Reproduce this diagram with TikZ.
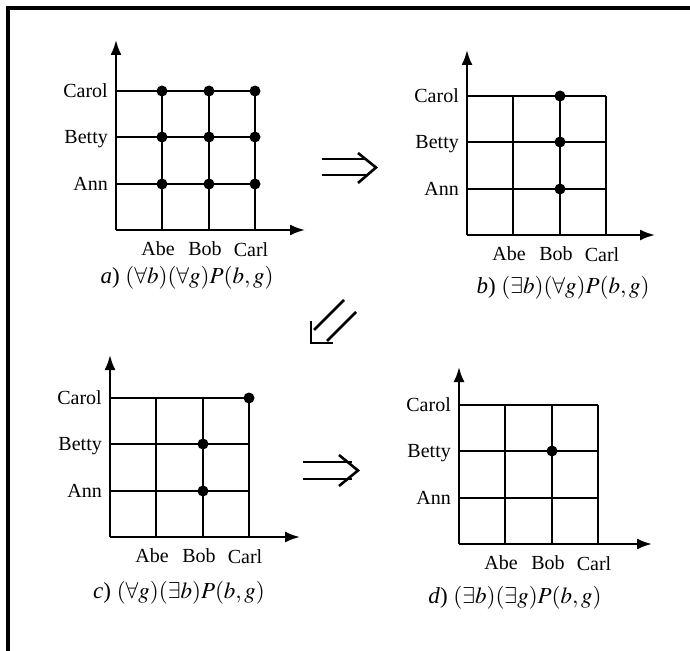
\documentclass[tikz,border=0pt]{standalone}
\usepackage{mathptmx}
\usepackage{fontspec}
\setmainfont{Liberation Serif}
\usetikzlibrary{arrows.meta}
% #1 prefix, #2 x0, #3 y0, #4 y of y-axis tip, #5 x of x-axis tip
\newcommand\drawpanel[5]{%
  \coordinate (#1o) at (#2,#3);
  \coordinate (#1top) at (#2,#4);
  \coordinate (#1tip) at (#5,#3);
  \foreach \k in {46,93,139}{%
    \draw[gridline] (#2+\k,#3) -- (#2+\k,#3-139);
    \draw[gridline] (#2,#3-\k) -- (#2+139,#3-\k);
  }
  \draw[axisline] (#1o) -- (#1top);
  \draw[axisline] (#1o) -- (#1tip);
  \node[ylab] (#1ann) at (#2-8,#3-46+6.5) {Ann};
  \node[ylab] (#1betty) at (#2-8,#3-93+6.5) {Betty};
  \node[ylab] (#1carol) at (#2-8,#3-139+6.5) {Carol};
  \node[xlab] (#1abe) at (#2+46-4,#3+25) {Abe};
  \node[xlab] (#1bob) at (#2+93-4,#3+25) {Bob};
  \node[xlab] (#1carl) at (#2+139-4,#3+26.5) {Carl};
}
% #1 name, #2 x0, #3 y0, #4 column offset, #5 row offset
\newcommand\pdot[5]{\node[gdot] (#1) at (#2+#4,#3-#5) {};}
\begin{document}
\begin{tikzpicture}[x=1pt,y=-1pt,
  gridline/.style={line width=1.7pt},
  axisline/.style={line width=2.2pt,-{Latex[length=15pt,width=11pt]}},
  gdot/.style={circle,fill=black,inner sep=0pt,minimum size=11pt},
  ylab/.style={anchor=base east,inner sep=0pt,font=\fontsize{20}{22}\selectfont},
  xlab/.style={anchor=base,inner sep=0pt,font=\fontsize{20}{22}\selectfont},
  caption/.style={anchor=base,inner sep=0pt,font=\fontsize{23}{26}\selectfont},
  frameline/.style={line width=4pt,line join=miter},
  implies/.style={line width=2.6pt,line join=miter}]
\useasboundingbox (0,0) rectangle (690,650);
\draw[frameline] (8,654) -- (8,8) -- (694,8);

% panel a
\drawpanel{a}{116}{230}{40}{305}
\foreach \c in {46,93,139}{\foreach \r in {46,93,139}{\pdot{a\c-\r}{116}{230}{\c}{\r}}}
\node[caption] (acap) at (187,283) {\textit{a}) $(\forall b)(\forall g)P(b,g)$};

% panel b
\drawpanel{b}{467}{235}{50}{655}
\foreach \r in {46,93,139}{\pdot{b93-\r}{467}{235}{93}{\r}}
\node[caption] (bcap) at (563,293) {\textit{b}) $(\exists b)(\forall g)P(b,g)$};

% panel c
\drawpanel{c}{110}{537}{355}{300}
\pdot{c33}{110}{537}{139}{139}
\pdot{c22}{110}{537}{93}{93}
\pdot{c21}{110}{537}{93}{46}
\node[caption] (ccap) at (179,598) {\textit{c}) $(\forall g)(\exists b)P(b,g)$};

% panel d
\drawpanel{d}{459}{544}{367}{652}
\pdot{d22}{459}{544}{93}{93}
\node[caption] (dcap) at (515,603) {\textit{d}) $(\exists b)(\exists g)P(b,g)$};

% implication arrows
\draw[implies] (322,159) -- (366,159);
\draw[implies] (322,175) -- (366,175);
\draw[implies] (358,153) -- (376,167.5) -- (358,183);

\draw[implies] (344,300) -- (314,330);
\draw[implies] (356,312) -- (327,341);
\draw[implies] (311,321) -- (311,343) -- (333,343);

\draw[implies] (303,462) -- (352,462);
\draw[implies] (303,479) -- (352,479);
\draw[implies] (339,455) -- (358,470.5) -- (339,486);
\end{tikzpicture}
\end{document}
